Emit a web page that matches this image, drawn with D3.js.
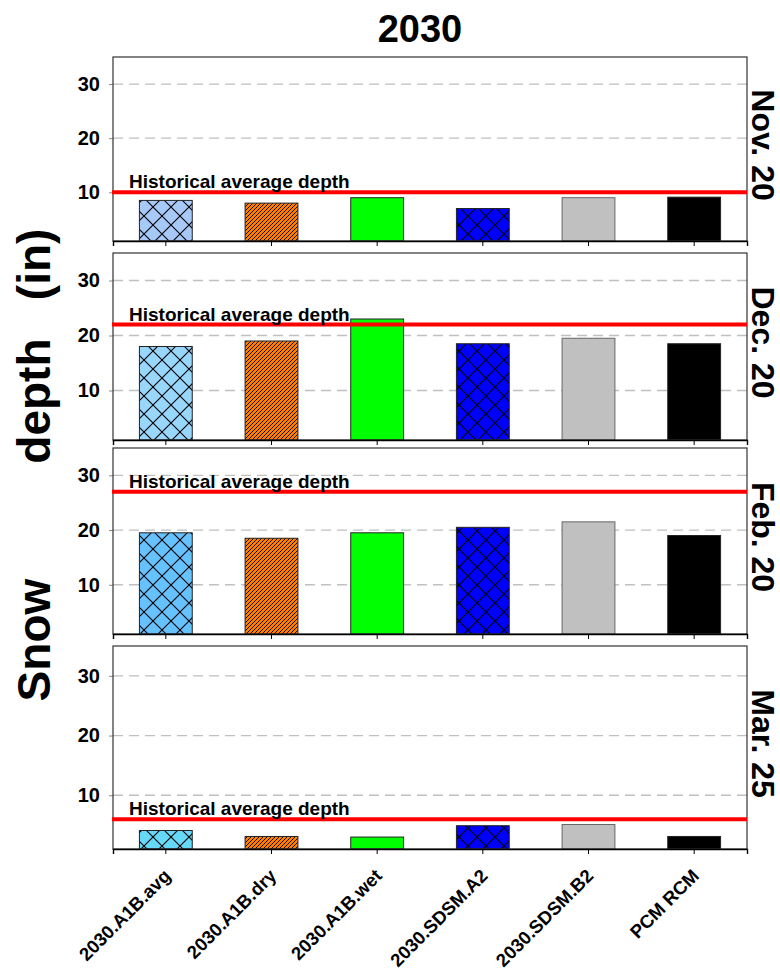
<!DOCTYPE html>
<html>
<head>
<meta charset="utf-8">
<script src="https://cdn.jsdelivr.net/npm/d3@7"></script>
<style>
  html, body { margin: 0; padding: 0; background: #fff; }
  svg { display: block; font-family: "Liberation Sans", Arial, sans-serif; font-weight: bold; }
</style>
</head>
<body>
<svg id="chart" width="780" height="973"></svg>
<script>
// ---- data ----
const chartTitle = "2030";
const scenarios = ["2030.A1B.avg", "2030.A1B.dry", "2030.A1B.wet", "2030.SDSM.A2", "2030.SDSM.B2", "PCM RCM"];
const dates = ["Nov. 20", "Dec. 20", "Feb. 20", "Mar. 25"];
const depthNov20 = [8.5, 8.0, 9.0, 7.0, 9.0, 9.1];
const depthDec20 = [18.0, 19.0, 23.0, 18.5, 19.5, 18.5];
const depthFeb20 = [19.5, 18.5, 19.5, 20.5, 21.5, 19.0];
const depthMar25 = [4.1, 3.1, 3.0, 4.9, 5.1, 3.1];
const historicalDepth = [10, 22, 27, 6];
const yTicks = [10, 20, 30];
const yLabel = "Snow         depth   (in)";
const refLabel = "Historical average depth";

const panelValues = [depthNov20, depthDec20, depthFeb20, depthMar25];

// ---- layout ----
const W = 780, H = 973;
const plotLeft = 113, plotRight = 747;
const panels = [
  { top: 57,  bottom: 241 },
  { top: 253, bottom: 440 },
  { top: 448, bottom: 634 },
  { top: 646, bottom: 849 }
];
const yDomain = [1, 35];

// ---- styles ----
const avgFillByPanel = ["#a6c9f7", "#99d6fb", "#66c2fe", "#66d8f8"];
const scenarioFill = ["", "#ff8000", "#00ff00", "#0000ff", "#c0c0c0", "#000000"];
const scenarioHatch = ["cross", "diag", "none", "cross", "none", "none"];

const svg = d3.select("#chart");
const defs = svg.append("defs");

function crossPattern(id, color) {
  const p = defs.append("pattern").attr("id", id)
    .attr("patternUnits", "userSpaceOnUse").attr("width", 18).attr("height", 18);
  p.append("rect").attr("width", 18).attr("height", 18).attr("fill", color);
  p.append("path").attr("d", "M0,0L18,18M18,0L0,18")
    .attr("stroke", "#000").attr("stroke-width", 1.1).attr("fill", "none");
}
function diagPattern(id, color) {
  const p = defs.append("pattern").attr("id", id)
    .attr("patternUnits", "userSpaceOnUse").attr("width", 4).attr("height", 4);
  p.append("rect").attr("width", 4).attr("height", 4).attr("fill", color);
  p.append("path").attr("d", "M0,4L4,0M-1,1L1,-1M3,5L5,3")
    .attr("stroke", "#000").attr("stroke-width", 0.9).attr("fill", "none");
}

function barFill(panelIdx, i) {
  const color = i === 0 ? avgFillByPanel[panelIdx] : scenarioFill[i];
  const hatch = scenarioHatch[i];
  if (hatch === "none") return color;
  const id = `hatch-${panelIdx}-${i}`;
  if (hatch === "cross") crossPattern(id, color); else diagPattern(id, color);
  return `url(#${id})`;
}

const x = d3.scaleBand()
  .domain(scenarios)
  .range([plotLeft, plotRight])
  .paddingInner(0.5)
  .paddingOuter(0.25);

// ---- title ----
svg.append("text")
  .attr("x", 420).attr("y", 42)
  .attr("text-anchor", "middle")
  .attr("font-size", 38)
  .text(chartTitle);

// ---- y axis label ----
svg.append("text")
  .attr("transform", `translate(50,465) rotate(-90)`)
  .attr("text-anchor", "middle")
  .attr("font-size", 46)
  .style("white-space", "pre")
  .text(yLabel);

panels.forEach((pnl, pi) => {
  const y = d3.scaleLinear().domain(yDomain).range([pnl.bottom, pnl.top]);
  const g = svg.append("g").attr("class", "panel");
  const values = panelValues[pi];

  // dashed gridlines
  g.selectAll("line.grid").data(yTicks).join("line")
    .attr("class", "grid")
    .attr("x1", plotLeft).attr("x2", plotRight)
    .attr("y1", d => y(d)).attr("y2", d => y(d))
    .attr("stroke", "#c0c0c0").attr("stroke-width", 1.3)
    .attr("stroke-dasharray", "10,6");

  // left axis with outward ticks
  const yAxis = d3.axisLeft(y).tickValues(yTicks).tickSize(4).tickPadding(9).tickFormat(d3.format("d"));
  const ya = g.append("g").attr("transform", `translate(${plotLeft},0)`).call(yAxis);
  ya.select(".domain").remove();
  ya.selectAll(".tick line").attr("stroke", "#888");
  ya.selectAll(".tick text")
    .attr("font-size", 20).attr("font-weight", "bold")
    .attr("font-family", "'Liberation Sans', Arial, sans-serif")
    .attr("fill", "#000");

  // bars
  g.selectAll("rect.bar").data(values).join("rect")
    .attr("class", "bar")
    .attr("x", (d, i) => x(scenarios[i]))
    .attr("width", x.bandwidth())
    .attr("y", d => y(d))
    .attr("height", d => y(yDomain[0]) - y(d))
    .attr("fill", (d, i) => barFill(pi, i))
    .attr("stroke", (d, i) => i === 4 ? "#666" : "#222")
    .attr("stroke-width", 1);

  // frame
  g.append("rect")
    .attr("x", plotLeft).attr("y", pnl.top)
    .attr("width", plotRight - plotLeft).attr("height", pnl.bottom - pnl.top)
    .attr("fill", "none").attr("stroke", "#333").attr("stroke-width", 1.2);

  // bottom axis with ticks at each scenario
  const xAxis = d3.axisBottom(x).tickSize(5).tickFormat("");
  const xa = g.append("g").attr("transform", `translate(0,${pnl.bottom})`).call(xAxis);
  xa.select(".domain").attr("stroke", "#000").attr("stroke-width", 1.4);
  xa.selectAll(".tick line").attr("stroke", "#000");

  // historical average line
  const hy = y(historicalDepth[pi]);
  g.append("line")
    .attr("x1", plotLeft - 1).attr("x2", plotRight)
    .attr("y1", hy).attr("y2", hy)
    .attr("stroke", "#ff0000").attr("stroke-width", 4);
  g.append("text")
    .attr("x", plotLeft + 16).attr("y", hy - 4)
    .attr("font-size", 19)
    .text(refLabel);

  // date label on the right
  g.append("text")
    .attr("transform", `translate(752,${(pnl.top + pnl.bottom) / 2 - 4}) rotate(90)`)
    .attr("text-anchor", "middle")
    .attr("font-size", 32)
    .text(dates[pi]);
});

// ---- category labels under the last panel ----
const last = panels[panels.length - 1];
svg.append("g").selectAll("text.cat").data(scenarios).join("text")
  .attr("class", "cat")
  .attr("transform", d => `translate(${x(d) + x.bandwidth() / 2 + 6},${last.bottom + 28}) rotate(-45)`)
  .attr("text-anchor", "end")
  .attr("font-size", 18.5)
  .text(d => d);
</script>
</body>
</html>
